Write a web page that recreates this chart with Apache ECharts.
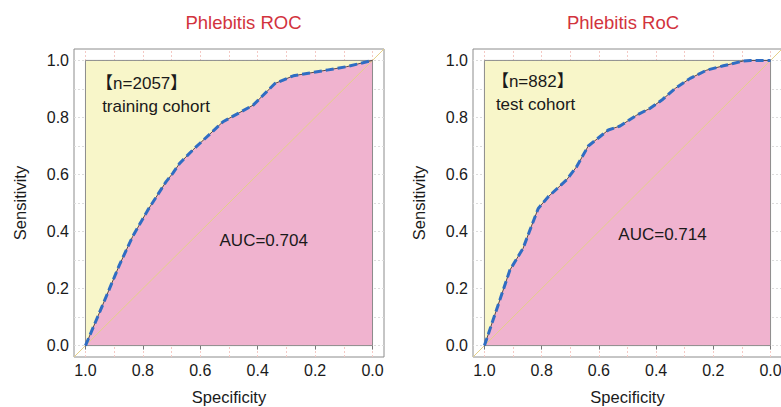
<!DOCTYPE html>
<html>
<head>
<meta charset="utf-8">
<title>Phlebitis ROC</title>
<script src="https://cdn.jsdelivr.net/npm/echarts@6/dist/echarts.min.js"></script>
<style>
  html, body { margin: 0; padding: 0; background: #ffffff; }
  #chart { width: 781px; height: 407px; }
</style>
</head>
<body>
<div id="chart"></div>
<script>
// ROC curve of the training cohort: [specificity, sensitivity]
const trainSpecificity = [1.000, 0.952, 0.882, 0.836, 0.783, 0.719, 0.696, 0.672, 0.626, 0.521, 0.416, 0.340, 0.276, 0.159, 0.090, 0.000];
const trainSensitivity = [0.000, 0.114, 0.282, 0.382, 0.475, 0.575, 0.604, 0.639, 0.686, 0.785, 0.843, 0.919, 0.946, 0.966, 0.978, 1.000];

// ROC curve of the test cohort
const testSpecificity = [1.000, 0.958, 0.911, 0.865, 0.841, 0.812, 0.777, 0.713, 0.678, 0.637, 0.567, 0.526, 0.468, 0.421, 0.380, 0.333, 0.281, 0.223, 0.165, 0.095, 0.071, 0.000];
const testSensitivity = [0.000, 0.125, 0.265, 0.341, 0.405, 0.481, 0.522, 0.581, 0.627, 0.700, 0.756, 0.770, 0.808, 0.832, 0.861, 0.902, 0.937, 0.966, 0.981, 0.998, 1.000, 1.000];

const tickValues = [0, 0.2, 0.4, 0.6, 0.8, 1.0];
const gridValues = [0, 0.1, 0.2, 0.3, 0.4, 0.5, 0.6, 0.7, 0.8, 0.9, 1.0];

const panelTitles = ['Phlebitis ROC', 'Phlebitis RoC'];
const cohortSizes = ['【n=2057】', '【n=882】'];
const cohortNames = ['training cohort', 'test cohort'];
const aucTexts = ['AUC=0.704', 'AUC=0.714'];

// where each panel's notes sit, in data units [specificity, sensitivity]
const sizeAnchors = [[0.963, 0.92], [0.974, 0.925]];
const nameAnchors = [[0.942, 0.84], [0.960, 0.846]];
const aucAnchors = [[0.533, 0.368], [0.532, 0.388]];

const FONT = '"Liberation Sans", Arial, "Noto Sans CJK SC", sans-serif';
const YELLOW = '#f8f6c9';
const PINK = '#f0b3cf';
const FRAME = '#8c8c8c';

function zip(a, b) { return a.map((v, i) => [v, b[i]]); }

const chart = echarts.init(document.getElementById('chart'), null, { renderer: 'svg' });

const grids = [
  { left: 74, top: 49, width: 310, height: 308 },
  { left: 473, top: 49, width: 309, height: 308 }
].map(g => Object.assign(g, {
  show: true, borderColor: FRAME, borderWidth: 1, backgroundColor: 'transparent',
  containLabel: false, outerBoundsMode: 'none'
}));

function xAxisFor(i) {
  return {
    type: 'value', gridIndex: i, min: -0.04, max: 1.04, inverse: true,
    axisLine: { show: false },
    axisTick: { show: true, length: 4, customValues: tickValues, lineStyle: { color: '#777' } },
    axisLabel: { customValues: tickValues, formatter: v => v.toFixed(1), fontSize: 16, color: '#1a1a1a', margin: 5, fontFamily: FONT },
    splitLine: { show: false },
    name: 'Specificity', nameLocation: 'middle', nameGap: 32,
    nameTextStyle: { fontSize: 16.5, color: '#1a1a1a', fontFamily: FONT }
  };
}
function yAxisFor(i) {
  return {
    type: 'value', gridIndex: i, min: -0.04, max: 1.04,
    axisLine: { show: false },
    axisTick: { show: true, length: 4, customValues: tickValues, lineStyle: { color: '#777' } },
    axisLabel: { customValues: tickValues, formatter: v => v.toFixed(1), fontSize: 16, color: '#1a1a1a', margin: 5, fontFamily: FONT },
    splitLine: { show: false },
    name: 'Sensitivity', nameLocation: 'middle', nameGap: 46,
    nameTextStyle: { fontSize: 16.5, color: '#1a1a1a', fontFamily: FONT }
  };
}

function panelSeries(i, curve) {
  const ax = { xAxisIndex: i, yAxisIndex: i };
  const gridLines = [];
  gridValues.forEach(v => {
    gridLines.push({ xAxis: v, lineStyle: { color: '#f4c9c4', type: [2, 2], width: 1 } });
    gridLines.push({ yAxis: v, lineStyle: { color: '#dcdcdc', type: [2, 2], width: 1 } });
  });
  return [
    // background grid lines
    Object.assign({
      type: 'line', data: [[1, 0]], symbol: 'none', lineStyle: { opacity: 0 }, silent: true, z: 0,
      markLine: { silent: true, symbol: 'none', z: 0, label: { show: false }, animation: false, data: gridLines }
    }, ax),
    // unit square, yellow
    Object.assign({
      type: 'line', data: [[1, 1], [0, 1]], symbol: 'none', silent: true, z: 1,
      lineStyle: { width: 0 }, areaStyle: { color: YELLOW, opacity: 1, origin: 0 }
    }, ax),
    // area under the ROC curve, pink
    Object.assign({
      type: 'line', data: curve, symbol: 'none', silent: true, z: 2,
      lineStyle: { width: 0 }, areaStyle: { color: PINK, opacity: 1, origin: 0 }
    }, ax),
    // chance diagonal
    Object.assign({
      type: 'line', data: [[1.04, -0.04], [-0.04, 1.04]], symbol: 'none', silent: true, z: 3,
      lineStyle: { color: '#e4cf88', width: 1 }
    }, ax),
    // frame of the unit square
    Object.assign({
      type: 'line', data: [[1, 0], [1, 1], [0, 1], [0, 0], [1, 0]], symbol: 'none', silent: true, z: 4,
      lineStyle: { color: FRAME, width: 1 }
    }, ax),
    // thin dark ROC trace
    Object.assign({
      type: 'line', data: curve, symbol: 'none', silent: true, z: 5,
      lineStyle: { color: '#5a4848', width: 1 }
    }, ax),
    // blue dashed ROC trace
    Object.assign({
      type: 'line', data: curve, symbol: 'none', silent: true, z: 6,
      lineStyle: { color: '#2f6dc3', width: 3, type: [8, 4] }
    }, ax)
  ];
}

chart.setOption({
  animation: false,
  backgroundColor: '#ffffff',
  grid: grids,
  xAxis: [xAxisFor(0), xAxisFor(1)],
  yAxis: [yAxisFor(0), yAxisFor(1)],
  series: [].concat(
    panelSeries(0, zip(trainSpecificity, trainSensitivity)),
    panelSeries(1, zip(testSpecificity, testSensitivity))
  )
});

// titles and notes placed from the panels' own scales
const graphics = [];
[0, 1].forEach(i => {
  const titleX = i === 0 ? 243.5 : 623;
  graphics.push({
    type: 'text', x: titleX, y: 22,
    style: { text: panelTitles[i], fill: '#d2333d', font: '18.5px ' + FONT, textAlign: 'center', textVerticalAlign: 'middle' }
  });
  const notes = [
    [cohortSizes[i], sizeAnchors[i]],
    [cohortNames[i], nameAnchors[i]],
    [aucTexts[i], aucAnchors[i]]
  ];
  notes.forEach(([txt, at]) => {
    const p = chart.convertToPixel({ gridIndex: i }, at);
    graphics.push({
      type: 'text', x: p[0], y: p[1], z: 20,
      style: { text: txt, fill: '#1a1a1a', font: '17px ' + FONT, textAlign: 'left', textVerticalAlign: 'middle' }
    });
  });
});
chart.setOption({ graphic: graphics });
</script>
</body>
</html>
